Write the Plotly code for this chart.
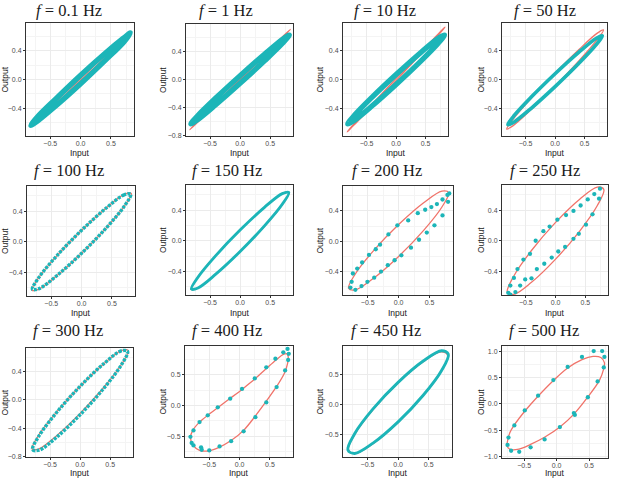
import plotly.graph_objects as go

W, H = 619, 483

FREQS = ["0.1", "1", "10", "50", "100", "150", "200", "250", "300", "400", "450", "500"]

# ---------------- data (Input = x, Output = y) ----------------
teal_x_01 = [0.82, 0.71, 0.41, 0.0, -0.41, -0.71, -0.82, -0.71, -0.41, 0.0, 0.41, 0.71]
teal_y_01 = [0.65, 0.58, 0.37, 0.06, -0.27, -0.52, -0.64, -0.58, -0.37, -0.06, 0.27, 0.52]
red_x_01 = [0.82, 0.71, 0.41, 0.0, -0.41, -0.71, -0.82, -0.71, -0.41, 0.0, 0.41, 0.71]
red_y_01 = [0.65, 0.57, 0.34, 0.015, -0.31, -0.555, -0.65, -0.57, -0.34, -0.015, 0.31, 0.555]

teal_x_02 = [0.82, 0.71, 0.41, 0.0, -0.41, -0.71, -0.82, -0.71, -0.41, 0.0, 0.41, 0.71]
teal_y_02 = [0.63, 0.574, 0.363, 0.055, -0.267, -0.518, -0.63, -0.574, -0.363, -0.055, 0.267, 0.518]
red_x_02 = [0.84, 0.727, 0.42, 0.0, -0.42, -0.727, -0.84, -0.727, -0.42, 0.0, 0.42, 0.727]
red_y_02 = [0.715, 0.625, 0.368, 0.012, -0.348, -0.613, -0.715, -0.625, -0.368, -0.012, 0.348, 0.613]

teal_x_03 = [0.82, 0.71, 0.41, 0.0, -0.41, -0.71, -0.82, -0.71, -0.41, 0.0, 0.41, 0.71]
teal_y_03 = [0.62, 0.572, 0.371, 0.07, -0.249, -0.502, -0.62, -0.572, -0.371, -0.07, 0.249, 0.502]
red_x_03 = [0.83, 0.719, 0.415, 0.0, -0.415, -0.719, -0.83, -0.719, -0.415, 0.0, 0.415, 0.719]
red_y_03 = [0.73, 0.64, 0.378, 0.015, -0.352, -0.624, -0.73, -0.64, -0.378, -0.015, 0.352, 0.624]

teal_x_04 = [0.8, 0.693, 0.4, 0.0, -0.4, -0.693, -0.8, -0.693, -0.4, 0.0, 0.4, 0.693]
teal_y_04 = [0.61, 0.572, 0.378, 0.08, -0.242, -0.502, -0.63, -0.592, -0.398, -0.1, 0.222, 0.482]
red_x_04 = [0.82, 0.71, 0.41, 0.0, -0.41, -0.71, -0.82, -0.71, -0.41, 0.0, 0.41, 0.71]
red_y_04 = [0.69, 0.643, 0.423, 0.09, -0.267, -0.553, -0.69, -0.643, -0.423, -0.09, 0.267, 0.553]

teal_x_05 = [0.81, 0.701, 0.405, 0.0, -0.405, -0.701, -0.81, -0.701, -0.405, 0.0, 0.405, 0.701]
teal_y_05 = [0.62, 0.612, 0.44, 0.15, -0.18, -0.462, -0.62, -0.612, -0.44, -0.15, 0.18, 0.462]
red_x_05 = [0.82, 0.71, 0.41, 0.0, -0.41, -0.71, -0.82, -0.71, -0.41, 0.0, 0.41, 0.71]
red_y_05 = [0.63, 0.621, 0.445, 0.15, -0.185, -0.471, -0.63, -0.621, -0.445, -0.15, 0.185, 0.471]

teal_x_06 = [0.81, 0.701, 0.405, 0.0, -0.405, -0.701, -0.81, -0.701, -0.405, 0.0, 0.405, 0.701]
teal_y_06 = [0.63, 0.616, 0.436, 0.14, -0.194, -0.476, -0.63, -0.616, -0.436, -0.14, 0.194, 0.476]
red_x_06 = [0.815, 0.706, 0.408, 0.0, -0.408, -0.706, -0.815, -0.706, -0.408, 0.0, 0.408, 0.706]
red_y_06 = [0.635, 0.62, 0.44, 0.14, -0.19, -0.475, -0.635, -0.62, -0.44, -0.14, 0.19, 0.475]

teal_x_07 = [-0.76, -0.74, -0.67, -0.59, -0.48, -0.37, -0.30, -0.165, -0.02, 0.155, 0.31, 0.43,
             0.53, 0.62, 0.71, 0.79, -0.78, -0.70, -0.60, -0.505, -0.395, -0.285, -0.175,
             -0.065, 0.045, 0.20, 0.33, 0.456, 0.58, 0.71, 0.80, 0.82]
teal_y_07 = [-0.535, -0.425, -0.36, -0.28, -0.18, -0.105, -0.045, 0.09, 0.21, 0.275, 0.37, 0.415,
             0.45, 0.49, 0.55, 0.61, -0.61, -0.64, -0.59, -0.535, -0.48, -0.40, -0.315,
             -0.25, -0.185, -0.085, 0.02, 0.115, 0.21, 0.34, 0.52, 0.63]
red_x_07 = [0.81, 0.701, 0.405, 0.0, -0.405, -0.701, -0.81, -0.701, -0.405, 0.0, 0.405, 0.701]
red_y_07 = [0.64, 0.661, 0.507, 0.22, -0.123, -0.431, -0.62, -0.641, -0.487, -0.2, 0.143, 0.451]

teal_x_08 = [-0.795, -0.76, -0.70, -0.64, -0.54, -0.43, -0.335, -0.205, -0.10, 0.03, 0.175, 0.30,
             0.42, 0.54, 0.65, 0.745, -0.76, -0.675, -0.595, -0.51, -0.405, -0.315, -0.19,
             -0.065, 0.045, 0.16, 0.30, 0.39, 0.51, 0.62, 0.73]
teal_y_08 = [-0.68, -0.585, -0.485, -0.37, -0.245, -0.17, 0.0, 0.125, 0.185, 0.275, 0.335, 0.39,
             0.46, 0.54, 0.61, 0.68, -0.705, -0.67, -0.585, -0.505, -0.49, -0.37, -0.30,
             -0.22, -0.14, -0.08, 0.025, 0.09, 0.21, 0.345, 0.55]
red_x_08 = [0.81, 0.701, 0.405, 0.0, -0.405, -0.701, -0.81, -0.701, -0.405, 0.0, 0.405, 0.701]
red_y_08 = [0.67, 0.70, 0.543, 0.24, -0.127, -0.46, -0.67, -0.70, -0.543, -0.24, 0.127, 0.46]

teal_x_09 = [0.79, 0.684, 0.395, 0.0, -0.395, -0.684, -0.79, -0.684, -0.395, 0.0, 0.395, 0.684]
teal_y_09 = [0.68, 0.688, 0.508, 0.19, -0.182, -0.508, -0.70, -0.708, -0.528, -0.21, 0.162, 0.488]
red_x_09 = [0.8, 0.693, 0.4, 0.0, -0.4, -0.693, -0.8, -0.693, -0.4, 0.0, 0.4, 0.693]
red_y_09 = [0.69, 0.693, 0.51, 0.19, -0.18, -0.503, -0.69, -0.693, -0.51, -0.19, 0.18, 0.503]

teal_x_10 = [-0.81, -0.79, -0.76, -0.76, -0.66, -0.635, -0.625, -0.525, -0.50, -0.36, -0.33, -0.155,
             -0.14, 0.04, 0.066, 0.25, 0.26, 0.44, 0.44, 0.59, 0.61, 0.72, 0.75, 0.79, 0.80, 0.81]
teal_y_10 = [-0.51, -0.61, -0.405, -0.65, -0.27, -0.68, -0.72, -0.16, -0.73, -0.03, -0.665, 0.11,
             -0.58, 0.27, -0.42, 0.44, -0.19, 0.62, 0.05, 0.76, 0.30, 0.865, 0.57, 0.92, 0.74, 0.84]
red_x_10 = [0.80, 0.79, 0.74, 0.61, 0.44, 0.26, 0.07, -0.14, -0.34, -0.52, -0.66, -0.77, -0.81,
            -0.77, -0.66, -0.50, -0.34, -0.15, 0.05, 0.25, 0.44, 0.60, 0.72, 0.78]
red_y_10 = [0.80, 0.68, 0.53, 0.31, 0.07, -0.17, -0.40, -0.57, -0.68, -0.74, -0.73, -0.64, -0.52,
            -0.40, -0.27, -0.14, -0.02, 0.12, 0.27, 0.43, 0.60, 0.74, 0.83, 0.84]

teal_x_11 = [0.82, 0.71, 0.41, 0.0, -0.41, -0.71, -0.82, -0.71, -0.41, 0.0, 0.41, 0.71]
teal_y_11 = [0.84, 0.898, 0.726, 0.37, -0.074, -0.488, -0.76, -0.818, -0.646, -0.29, 0.154, 0.568]
red_x_11 = [0.81, 0.701, 0.405, 0.0, -0.405, -0.701, -0.81, -0.701, -0.405, 0.0, 0.405, 0.701]
red_y_11 = [0.82, 0.879, 0.711, 0.36, -0.079, -0.489, -0.76, -0.819, -0.651, -0.30, 0.139, 0.549]

teal_x_12 = [-0.755, -0.74, -0.70, -0.575, -0.65, -0.49, -0.40, -0.285, -0.185, -0.05, 0.05, 0.17,
             0.265, 0.28, 0.39, 0.48, 0.57, 0.63, 0.70, 0.725, 0.735]
teal_y_12 = [-0.78, -0.64, -0.89, -0.91, -0.41, -0.125, -0.825, 0.155, -0.675, 0.45, -0.44, 0.70,
             -0.175, -0.21, 0.89, 0.125, 1.0, 0.425, 1.0, 0.69, 0.89]
red_x_12 = [-0.76, -0.72, -0.65, -0.49, -0.29, -0.06, 0.17, 0.39, 0.56, 0.68, 0.735, 0.72, 0.66,
            0.48, 0.27, 0.05, -0.18, -0.40, -0.58, -0.70, -0.76]
red_y_12 = [-0.74, -0.55, -0.40, -0.14, 0.14, 0.43, 0.68, 0.84, 0.90, 0.88, 0.78, 0.65, 0.45,
            0.13, -0.19, -0.44, -0.63, -0.77, -0.86, -0.87, -0.81]

TEAL = [(teal_x_01, teal_y_01), (teal_x_02, teal_y_02), (teal_x_03, teal_y_03), (teal_x_04, teal_y_04),
        (teal_x_05, teal_y_05), (teal_x_06, teal_y_06), (teal_x_07, teal_y_07), (teal_x_08, teal_y_08),
        (teal_x_09, teal_y_09), (teal_x_10, teal_y_10), (teal_x_11, teal_y_11), (teal_x_12, teal_y_12)]
RED = [(red_x_01, red_y_01), (red_x_02, red_y_02), (red_x_03, red_y_03), (red_x_04, red_y_04),
       (red_x_05, red_y_05), (red_x_06, red_y_06), (red_x_07, red_y_07), (red_x_08, red_y_08),
       (red_x_09, red_y_09), (red_x_10, red_y_10), (red_x_11, red_y_11), (red_x_12, red_y_12)]

# ---------------- layout / style ----------------
# panel boxes in pixels: left, right, top, bottom
BOXES = [(26, 134, 23, 137), (186, 293, 24, 137), (343, 448, 23, 137), (502, 607, 23, 137),
         (27, 135, 187, 298), (186, 293, 186, 297), (343, 453, 187, 297), (502, 608, 186, 297),
         (26, 133, 350, 460), (185, 293, 348, 460), (343, 452, 348, 460), (502, 608, 348, 461)]
XR = [[-0.9, 0.88]] * 11 + [[-0.84, 0.79]]
YR = [[-0.79, 0.79], [-0.805, 0.79], [-0.79, 0.79], [-0.79, 0.79],
      [-0.71, 0.73], [-0.71, 0.73], [-0.71, 0.73], [-0.71, 0.73],
      [-0.805, 0.73], [-0.84, 0.97], [-0.88, 0.98], [-1.03, 1.1]]
YDT = [0.4] * 9 + [0.5, 0.5, 0.5]
TITLE_X = [69, 226, 385, 545, 69, 227, 387, 545, 68, 227, 386, 544]
TITLE_Y = [11, 11, 11, 11, 172, 172, 172, 172, 333, 333, 333, 333]
OUT_X = [5, 163, 320, 481]
IN_Y = [154, 315, 476]
TEAL_STYLE = ["band", "band", "band", "band4", "dots", "line", "pts", "pts", "dots", "pts", "line", "pts"]

TEAL_C = "#1cb5b8"
RED_C = "#f0736a"
SERIF = "Liberation Serif, 'Times New Roman', serif"

fig = go.Figure()
annotations = []

for i in range(12):
    k = i + 1
    xa = "x" if k == 1 else f"x{k}"
    ya = "y" if k == 1 else f"y{k}"
    l, r, t, b = BOXES[i]
    rx, ry = RED[i]
    fig.add_trace(go.Scatter(x=rx + rx[:1], y=ry + ry[:1], mode="lines",
                             line=dict(color=RED_C, width=1.3, shape="spline", smoothing=1.0),
                             xaxis=xa, yaxis=ya, hoverinfo="skip"))
    tx, ty = TEAL[i]
    st = TEAL_STYLE[i]
    if st == "pts":
        fig.add_trace(go.Scatter(x=tx, y=ty, mode="markers",
                                 marker=dict(color=TEAL_C, size=4.3, line=dict(width=0)),
                                 xaxis=xa, yaxis=ya, hoverinfo="skip"))
    else:
        w = {"band": 5.3, "band4": 3.6, "line": 2.9, "dots": 3.4}[st]
        dash = "3px,1.2px" if st == "dots" else "solid"
        fig.add_trace(go.Scatter(x=tx + tx[:1], y=ty + ty[:1], mode="lines",
                                 line=dict(color=TEAL_C, width=w, shape="spline", smoothing=1.0, dash=dash),
                                 xaxis=xa, yaxis=ya, hoverinfo="skip"))

    axis_common = dict(showline=True, mirror=True, linecolor="#333333", linewidth=1,
                       showgrid=True, gridcolor="#ebebeb", gridwidth=1, zeroline=False,
                       ticks="outside", ticklen=2, tickwidth=0.8, tickcolor="#333333",
                       tickfont=dict(family="Liberation Sans, Arial", size=7, color="#4d4d4d"),
                       tickformat=".1f", fixedrange=True)
    fig.layout[("xaxis" if k == 1 else f"xaxis{k}")] = dict(
        domain=[l / W, r / W], range=XR[i], anchor=ya, tickmode="linear", tick0=0, dtick=0.5,
        ticklabelstandoff=-2,
        minor=dict(showgrid=True, gridcolor="#f4f4f4", gridwidth=0.6, dtick=0.25, tick0=0),
        **axis_common)
    fig.layout[("yaxis" if k == 1 else f"yaxis{k}")] = dict(
        domain=[1 - b / H, 1 - t / H], range=YR[i], anchor=xa, tickmode="linear", tick0=0, dtick=YDT[i],
        ticklabelstandoff=0,
        minor=dict(showgrid=True, gridcolor="#f4f4f4", gridwidth=0.6, dtick=YDT[i] / 2, tick0=0),
        **axis_common)

    annotations.append(dict(text=f"<i>f</i> = {FREQS[i]} Hz", x=TITLE_X[i] / W, y=1 - TITLE_Y[i] / H,
                            xref="paper", yref="paper", showarrow=False, xanchor="center", yanchor="middle",
                            font=dict(family=SERIF, size=16.5, color="#1a1a1a")))
    annotations.append(dict(text="Input", x=(l + r) / 2 / W, y=1 - IN_Y[i // 4] / H,
                            xref="paper", yref="paper", showarrow=False, xanchor="center", yanchor="middle",
                            font=dict(family="Liberation Sans, Arial", size=8.5, color="#1a1a1a")))
    annotations.append(dict(text="Output", x=OUT_X[i % 4] / W, y=1 - (t + b) / 2 / H, textangle=-90,
                            xref="paper", yref="paper", showarrow=False, xanchor="center", yanchor="middle",
                            font=dict(family="Liberation Sans, Arial", size=8.5, color="#1a1a1a")))

fig.update_layout(width=W, height=H, margin=dict(l=0, r=0, t=0, b=0),
                  paper_bgcolor="white", plot_bgcolor="white", showlegend=False,
                  annotations=annotations)

fig.write_html("out.html")
